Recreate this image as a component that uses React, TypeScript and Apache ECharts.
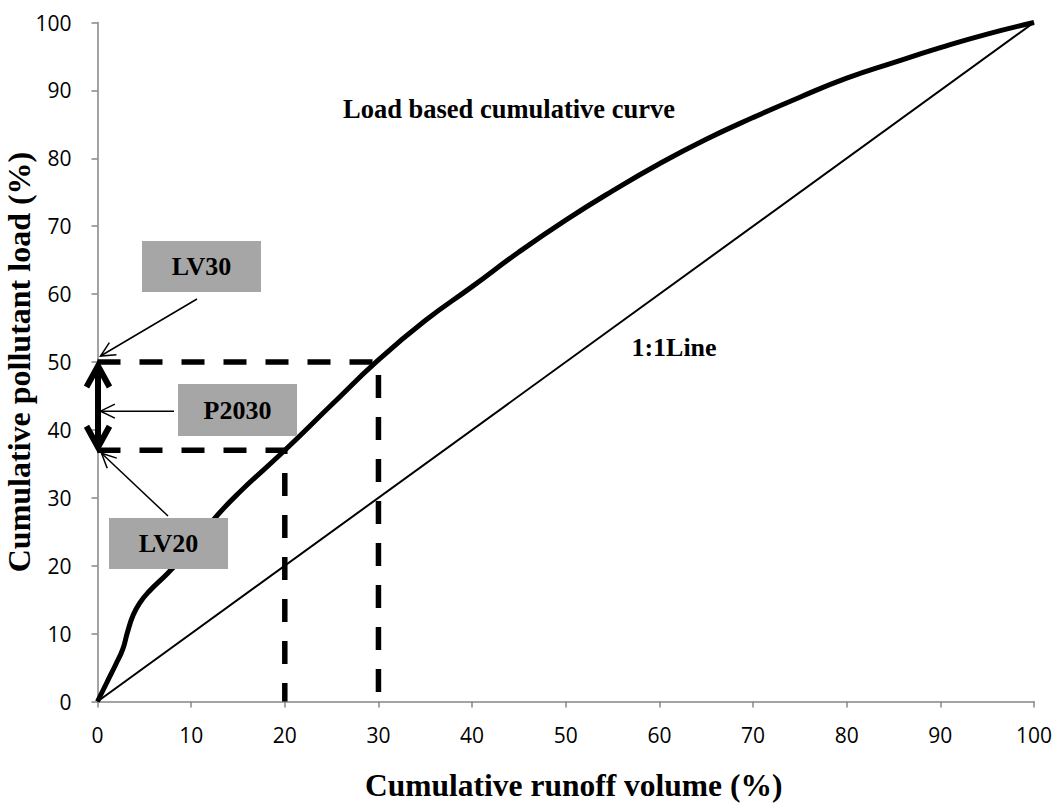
import React, { useEffect, useRef } from "react";
import * as echarts from "echarts";

// Load based cumulative curve (cumulative runoff volume %, cumulative pollutant load %)
const runoffPct = [0, 1, 2, 2.7, 3.2, 3.8, 4.5, 5.5, 7.5, 10, 12.4, 15, 20, 25, 30, 35, 40, 45, 50, 55, 60, 65, 70, 75, 80, 85, 90, 95, 100];
const loadPct = [0, 2.8, 5.6, 7.7, 10.2, 12.7, 14.5, 16.2, 18.9, 22.6, 26.8, 30.6, 37, 43.7, 50.3, 56.1, 61.1, 66.2, 70.9, 75.2, 79.2, 82.8, 86, 89, 91.8, 94.1, 96.3, 98.3, 100];

// 1:1 line
const oneToOneX = [0, 100];
const oneToOneY = [0, 100];

// Guide values
const LV30 = 50;
const LV20 = 37;
const V30 = 30;
const V20 = 20;

const xTicks = [0, 10, 20, 30, 40, 50, 60, 70, 80, 90, 100];
const yTicks = [0, 10, 20, 30, 40, 50, 60, 70, 80, 90, 100];

const SERIF = '"Liberation Serif", "Times New Roman", serif';
const SANS = '"Open Sans", "Noto Sans", sans-serif';

export default function App() {
  const ref = useRef<HTMLDivElement>(null);

  useEffect(() => {
    if (!ref.current) return;
    const chart = echarts.init(ref.current, null, { renderer: "svg" });

    const curveData = runoffPct.map((x, i) => [x, loadPct[i]]);
    const lineData = oneToOneX.map((x, i) => [x, oneToOneY[i]]);

    chart.setOption({
      animation: false,
      backgroundColor: "#fff",
      grid: { left: 97.5, right: 25, top: 22.5, bottom: 103.5, containLabel: false, outerBoundsMode: "none" },
      xAxis: {
        type: "value",
        min: xTicks[0],
        max: xTicks[xTicks.length - 1],
        interval: 10,
        name: "Cumulative runoff volume (%)",
        nameLocation: "middle",
        nameGap: 68,
        nameMoveOverlap: false,
        nameTextStyle: { fontFamily: SERIF, fontWeight: "bold", fontSize: 31.5, color: "#000", padding: [0, 0, 0, 16] },
        axisLine: { lineStyle: { color: "#868686", width: 1.5 } },
        axisTick: { show: true, inside: false, length: 6, lineStyle: { color: "#868686", width: 1.5 } },
        axisLabel: { fontFamily: SANS, fontSize: 21, color: "#000", margin: 23 },
        splitLine: { show: false },
      },
      yAxis: {
        type: "value",
        min: yTicks[0],
        max: yTicks[yTicks.length - 1],
        interval: 10,
        name: "Cumulative pollutant load (%)",
        nameLocation: "middle",
        nameGap: 63,
        nameMoveOverlap: false,
        nameRotate: 90,
        nameTextStyle: { fontFamily: SERIF, fontWeight: "bold", fontSize: 32, color: "#000" },
        axisLine: { show: true, lineStyle: { color: "#868686", width: 1.5 } },
        axisTick: { show: true, inside: false, length: 6, lineStyle: { color: "#868686", width: 1.5 } },
        axisLabel: { fontFamily: SANS, fontSize: 21, color: "#000", margin: 26 },
        splitLine: { show: false },
      },
      series: [
        {
          name: "1:1 Line",
          type: "line",
          data: lineData,
          showSymbol: false,
          symbol: "none",
          lineStyle: { color: "#000", width: 2 },
          z: 2,
        },
        {
          name: "Load based cumulative curve",
          type: "line",
          data: curveData,
          smooth: 0.5,
          showSymbol: false,
          symbol: "none",
          lineStyle: { color: "#000", width: 5 },
          z: 3,
        },
        {
          name: "LV30 guide",
          type: "line",
          data: [[0, LV30], [V30, LV30], [V30, 0]],
          showSymbol: false,
          symbol: "none",
          lineStyle: { color: "#000", width: 5.5, type: [23, 19], cap: "butt" },
          z: 4,
        },
        {
          name: "LV20 guide",
          type: "line",
          data: [[0, LV20], [V20, LV20], [V20, 0]],
          showSymbol: false,
          symbol: "none",
          lineStyle: { color: "#000", width: 5.5, type: [23, 19], cap: "butt" },
          z: 4,
        },
      ],
    });

    const px = (x: number, y: number) => chart.convertToPixel({ gridIndex: 0 }, [x, y]) as number[];

    const head = (tip: number[], from: number[], len: number, ang: number) => {
      const dx = from[0] - tip[0];
      const dy = from[1] - tip[1];
      const a = Math.atan2(dy, dx);
      const p1 = [tip[0] + len * Math.cos(a + ang), tip[1] + len * Math.sin(a + ang)];
      const p2 = [tip[0] + len * Math.cos(a - ang), tip[1] + len * Math.sin(a - ang)];
      return [p1, tip, p2];
    };

    const p50 = px(0, LV30);
    const p37 = px(0, LV20);

    const thin = { stroke: "#000", lineWidth: 1.5, fill: "none" };
    const thick = { stroke: "#000", lineWidth: 6, fill: "none", lineCap: "butt", lineJoin: "miter" };

    // double arrow between LV20 and LV30
    const dTop = [p50[0] + 0.5, p50[1] + 4];
    const dBot = [p37[0] + 0.5, p37[1] - 3];

    // thin arrows
    const lv30Tip = [p50[0] + 3, p50[1] - 6];
    const lv30From = [197, 299];
    const pTip = [p50[0] + 3, (p50[1] + p37[1]) / 2 + 5];
    const pFrom = [174, pTip[1]];
    const lv20Tip = [p37[0] + 4, p37[1] + 3];
    const lv20From = [168, 516];

    const label = (text: string, x: number, y: number, size = 26) => ({
      type: "text",
      z: 110,
      style: {
        text,
        x,
        y,
        textAlign: "center",
        textVerticalAlign: "middle",
        align: "center",
        verticalAlign: "middle",
        fontFamily: SERIF,
        fontWeight: "bold",
        fontSize: size,
        fill: "#000",
      },
    });

    const box = (x: number, y: number, w: number, h: number, text: string) => [
      { type: "rect", z: 105, shape: { x, y, width: w, height: h }, style: { fill: "#A6A6A6" } },
      label(text, x + w / 2, y + h / 2),
    ];

    chart.setOption({
      graphic: [
        // double-headed thick arrow
        { type: "line", z: 100, shape: { x1: dTop[0], y1: dTop[1] + 2, x2: dBot[0], y2: dBot[1] - 2 }, style: thick },
        { type: "polyline", z: 100, shape: { points: [[dTop[0] - 11.5, dTop[1] + 21], dTop, [dTop[0] + 11.5, dTop[1] + 21]] }, style: thick },
        { type: "polyline", z: 100, shape: { points: [[dBot[0] - 11.5, dBot[1] - 21], dBot, [dBot[0] + 11.5, dBot[1] - 21]] }, style: thick },
        // LV30 pointer
        { type: "line", z: 100, shape: { x1: lv30From[0], y1: lv30From[1], x2: lv30Tip[0], y2: lv30Tip[1] }, style: thin },
        { type: "polyline", z: 100, shape: { points: head(lv30Tip, lv30From, 16, 0.45) }, style: thin },
        // P2030 pointer
        { type: "line", z: 100, shape: { x1: pFrom[0], y1: pFrom[1], x2: pTip[0], y2: pTip[1] }, style: thin },
        { type: "polyline", z: 100, shape: { points: head(pTip, pFrom, 16, 0.45) }, style: thin },
        // LV20 pointer
        { type: "line", z: 100, shape: { x1: lv20From[0], y1: lv20From[1], x2: lv20Tip[0], y2: lv20Tip[1] }, style: thin },
        { type: "polyline", z: 100, shape: { points: head(lv20Tip, lv20From, 16, 0.45) }, style: thin },
        // boxes
        ...box(142, 241, 119, 51, "LV30"),
        ...box(178, 384, 119, 52, "P2030"),
        ...box(109, 518, 119, 51, "LV20"),
        // curve labels
        label("Load based cumulative curve", 509, 109, 26.5),
        label("1:1Line", 674, 347),
      ],
    });

    return () => chart.dispose();
  }, []);

  return (
    <div
      ref={ref}
      style={{ position: "fixed", left: 0, top: 0, width: 1059, height: 805, background: "#fff" }}
    />
  );
}
